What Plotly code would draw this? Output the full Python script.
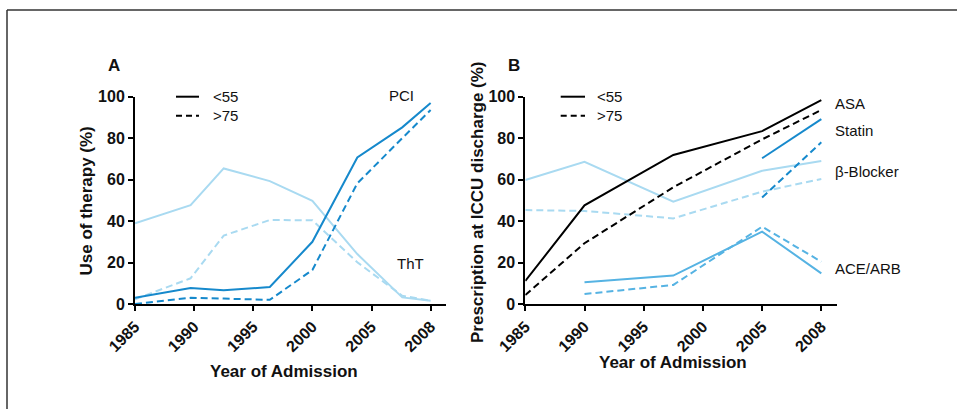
import plotly.graph_objects as go

W, H = 957, 409

# ---------------- data ----------------
# Panel A: x positions as read on the axis (last survey sits at the "2008" tick)
a_x = [1985, 1989.7, 1992.5, 1996.4, 2000, 2003.8, 2007.6, 2010]
pci_lt55 = [3.0, 7.7, 6.6, 8.2, 30.0, 70.7, 85.2, 97.0]
pci_gt75 = [0.0, 3.0, 2.6, 2.0, 16.4, 58.2, 80.0, 93.6]
tht_lt55 = [38.9, 47.7, 65.4, 59.3, 49.8, 24.1, 3.2, 1.6]
tht_gt75 = [2.3, 12.4, 33.0, 40.5, 40.4, 20.1, 4.0, 1.6]

# Panel B
b_x = [1985, 1990, 1997.5, 2005, 2010]
asa_lt55 = [11.1, 47.6, 71.9, 83.4, 98.4]
asa_gt75 = [4.3, 29.3, 56.3, 79.4, 93.6]
statin_x = [2005, 2010]
statin_lt55 = [70.3, 89.2]
statin_gt75 = [51.4, 78.0]
bb_lt55 = [59.8, 68.6, 49.4, 64.3, 69.0]
bb_gt75 = [45.3, 44.9, 41.3, 54.2, 60.3]
ace_x = [1990, 1997.5, 2005, 2010]
ace_lt55 = [10.5, 13.7, 34.9, 14.8]
ace_gt75 = [4.8, 9.2, 37.3, 20.4]

tick_vals = [1985, 1990, 1995, 2000, 2005, 2010]
tick_text = ["1985", "1990", "1995", "2000", "2005", "2008"]
y_ticks = [0, 20, 40, 60, 80, 100]

# ---------------- styles ----------------
C_MED = "#1689cc"
C_LIGHT = "#a9daf1"
C_ACE = "#56b3e3"
C_BLACK = "#000000"
DASH = "7px,4px"
FONT = "Liberation Sans, Arial, sans-serif"

def px_x(p):
    return p / W

def px_y(p):
    return 1 - p / H

fig = go.Figure()

def add_line(x, y, color, dashed, xa, ya):
    fig.add_trace(go.Scatter(
        x=x, y=y, mode="lines", xaxis=xa, yaxis=ya,
        line=dict(color=color, width=2, dash=DASH if dashed else "solid"),
        cliponaxis=False, showlegend=False, hoverinfo="skip"))

# Panel A
add_line(a_x, tht_lt55, C_LIGHT, False, "x", "y")
add_line(a_x, tht_gt75, C_LIGHT, True, "x", "y")
add_line(a_x, pci_lt55, C_MED, False, "x", "y")
add_line(a_x, pci_gt75, C_MED, True, "x", "y")

# Panel B
add_line(b_x, bb_lt55, C_LIGHT, False, "x2", "y2")
add_line(b_x, bb_gt75, C_LIGHT, True, "x2", "y2")
add_line(ace_x, ace_lt55, C_ACE, False, "x2", "y2")
add_line(ace_x, ace_gt75, C_ACE, True, "x2", "y2")
add_line(statin_x, statin_lt55, C_MED, False, "x2", "y2")
add_line(statin_x, statin_gt75, C_MED, True, "x2", "y2")
add_line(b_x, asa_lt55, C_BLACK, False, "x2", "y2")
add_line(b_x, asa_gt75, C_BLACK, True, "x2", "y2")

y_dom = [px_y(304), px_y(96.7)]
xa_common = dict(
    range=[1985, 2011.3], tickmode="array", tickvals=tick_vals, ticktext=tick_text,
    tickangle=-45, showline=True, linecolor="black", linewidth=2,
    ticks="outside", ticklen=5, tickwidth=2, tickcolor="black",
    showgrid=False, zeroline=False, automargin=False,
    tickfont=dict(family=FONT, size=16, color="#111", weight="bold"),
)
ya_common = dict(
    range=[0, 100], tickmode="array", tickvals=y_ticks,
    showline=True, linecolor="black", linewidth=2,
    ticks="outside", ticklen=5, tickwidth=2, tickcolor="black",
    showgrid=False, zeroline=False, automargin=False,
    tickfont=dict(family=FONT, size=16, color="#111", weight="bold"),
)

fig.update_layout(
    template="none",
    width=W, height=H, autosize=False,
    margin=dict(l=0, r=0, t=0, b=0, pad=0),
    paper_bgcolor="white", plot_bgcolor="white",
    xaxis=dict(domain=[px_x(135), px_x(446)], anchor="y", **xa_common),
    yaxis=dict(domain=y_dom, anchor="x", **ya_common),
    xaxis2=dict(domain=[px_x(525.3), px_x(836.7)], anchor="y2", **xa_common),
    yaxis2=dict(domain=y_dom, anchor="x2", **ya_common),
)

annotations = []

def ann(text, x, y, size, bold=False, xanchor="center", angle=0, color="#111"):
    annotations.append(dict(
        text=text, x=px_x(x), y=px_y(y), xref="paper", yref="paper",
        xanchor=xanchor, yanchor="middle", showarrow=False, textangle=angle,
        font=dict(family=FONT, size=size, color=color, weight="bold" if bold else "normal")))

# Panel letters
ann("A", 106, 65, 17, bold=True, xanchor="left")
ann("B", 505.7, 65, 17, bold=True, xanchor="left")
# Axis titles
ann("Year of Admission", 284, 371, 17, bold=True)
ann("Year of Admission", 673, 362.7, 17, bold=True)
ann("Use of therapy (%)", 85.5, 201, 17, bold=True, angle=-90)
ann("Prescription at ICCU discharge (%)", 478, 202, 17, bold=True, angle=-90)
# Series labels
ann("PCI", 401.7, 95, 15)
ann("ThT", 410, 263, 15)
ann("ASA", 833, 103, 15, xanchor="left")
ann("Statin", 833, 130, 15, xanchor="left")
ann("β-Blocker", 833, 171.7, 15, xanchor="left")
ann("ACE/ARB", 833, 268, 15, xanchor="left")
# Legend texts
for lx in (210.7, 595.3):
    ann("<55", lx, 96.7, 15, xanchor="left")
    ann(">75", lx, 115.7, 15, xanchor="left")

shapes = []
# legend samples
for x0, x1 in ((176, 199), (560.7, 585)):
    shapes.append(dict(type="line", xref="paper", yref="paper",
                       x0=px_x(x0), x1=px_x(x1), y0=px_y(96.7), y1=px_y(96.7),
                       line=dict(color="black", width=2)))
    shapes.append(dict(type="line", xref="paper", yref="paper",
                       x0=px_x(x0), x1=px_x(x1), y0=px_y(115.7), y1=px_y(115.7),
                       line=dict(color="black", width=2, dash="6px,4px")))
# outer frame (top and left edges)
shapes.append(dict(type="line", xref="paper", yref="paper",
                   x0=px_x(7), x1=1.0, y0=px_y(10), y1=px_y(10),
                   line=dict(color="#333", width=1.5)))
shapes.append(dict(type="line", xref="paper", yref="paper",
                   x0=px_x(7), x1=px_x(7), y0=0, y1=px_y(10),
                   line=dict(color="#333", width=1.5)))

fig.update_layout(annotations=annotations, shapes=shapes)
fig.write_html("out.html")
